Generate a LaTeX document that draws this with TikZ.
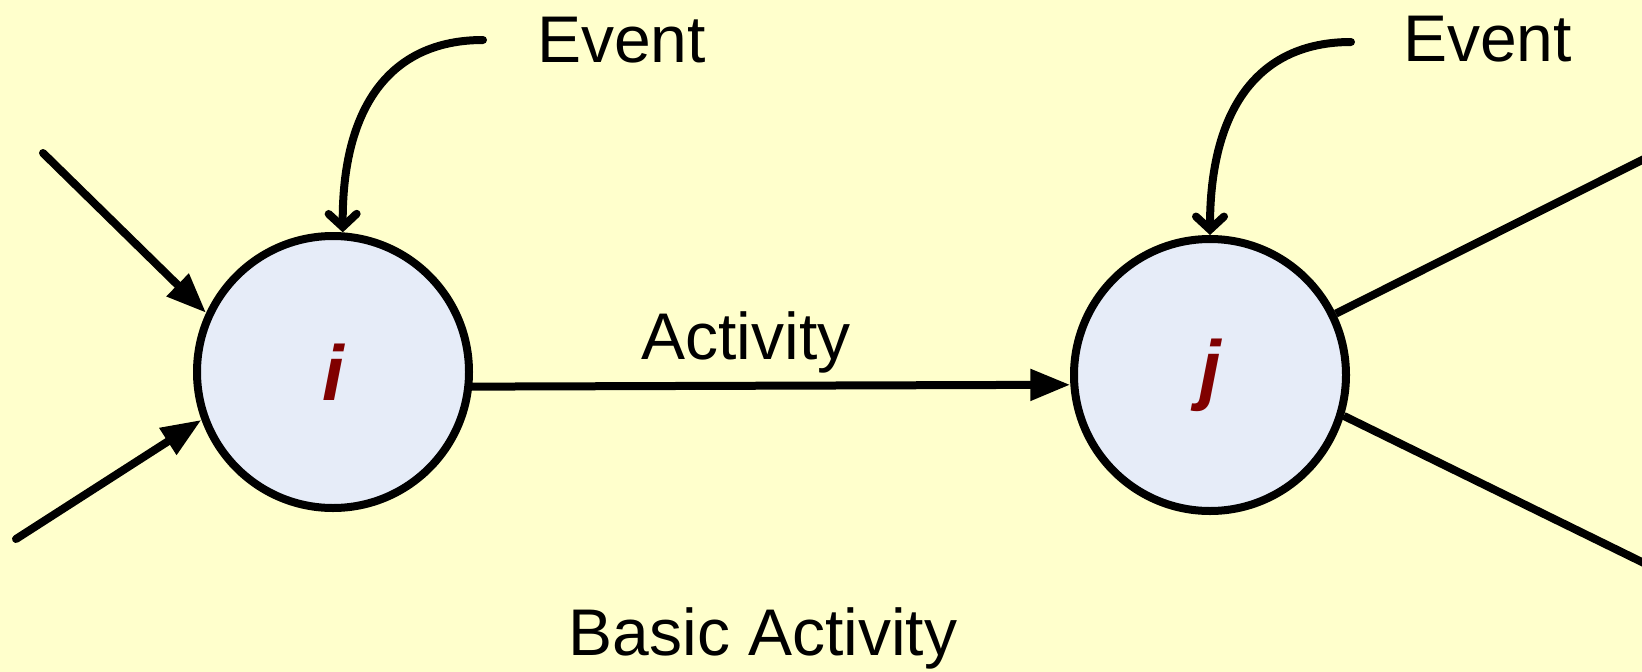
\documentclass[tikz,border=0pt]{standalone}
\usepackage{fontspec}
\setmainfont{Liberation Sans}
\usetikzlibrary{arrows.meta}
\definecolor{bgyellow}{HTML}{FFFFCC}
\definecolor{nodefill}{HTML}{E6ECF8}
\definecolor{letterred}{HTML}{800000}
\begin{document}
\begin{tikzpicture}[x=1pt,y=-1pt,
  eventnode/.style={circle, draw=black, line width=8pt, fill=nodefill,
    minimum size=272pt, inner sep=0pt, text=letterred,
    font=\fontsize{78}{90}\selectfont\bfseries\itshape},
  txt/.style={font=\fontsize{66}{80}\selectfont, inner sep=0pt},
  link/.style={line width=8pt, line cap=round},
  flow/.style={link, -{Triangle[length=40pt,width=30pt]}},
  trigger/.style={link, -{Straight Barb[length=13pt,width=28pt,line cap=round]}}]

% canvas
\fill[bgyellow] (0,0) rectangle (1642,672);
\useasboundingbox (0,0) rectangle (1642,672);

% the two events
\node[eventnode] (i) at (333,372) {i};
\node[eventnode] (j) at (1210,375) {j};

% labels
\node[txt, anchor=base west] (ev1) at (537,62) {Event};
\node[txt, anchor=base west] (ev2) at (1403,61) {Event};
\node[txt, anchor=base] (act) at (746,359) {Activity};
\node[txt, anchor=base] (title) at (763,655) {Basic Activity};

% free ends of the connectors
\coordinate (in1) at (43,153);
\coordinate (in2) at (16,539);
\coordinate (out1) at (1650,156);
\coordinate (out2) at (1650,566);
\coordinate (ev1s) at (483,40);
\coordinate (ev2s) at (1351,42);

% incoming activities
\draw[flow] (in1) -- (i.155);
\draw[flow] (in2) -- (i.200);

% the activity between i and j
\draw[flow] (i.-6) -- (j.184);

% outgoing activities
\draw[link, line cap=butt] (j.26) -- (out1);
\draw[link, line cap=butt] (j.-17) -- (out2);

% event markers
\draw[trigger] (ev1s) .. controls (388,40) and (342,110) .. (i.86);
\draw[trigger] (ev2s) .. controls (1256,42) and (1210,112) .. (j.90);
\end{tikzpicture}
\end{document}
